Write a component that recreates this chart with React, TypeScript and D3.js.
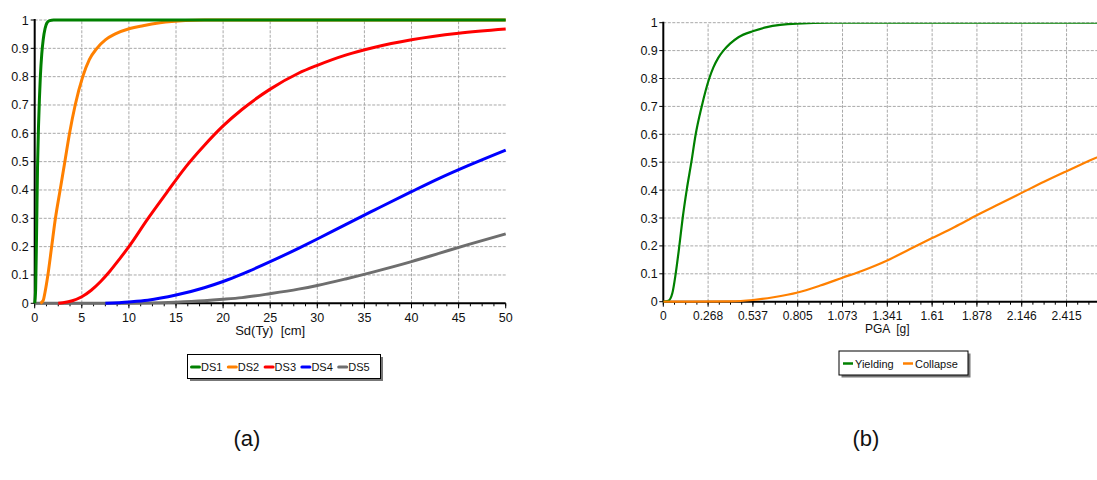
import * as d3 from "d3";

const W = 1097;
const H = 480;

// left panel: damage state fragility curves vs Sd(Ty)
const sdTicks = [0, 5, 10, 15, 20, 25, 30, 35, 40, 45, 50];
const probTicks = [0, 0.1, 0.2, 0.3, 0.4, 0.5, 0.6, 0.7, 0.8, 0.9, 1];
const probLabels = ["0", "0.1", "0.2", "0.3", "0.4", "0.5", "0.6", "0.7", "0.8", "0.9", "1"];

const ds1: [number, number][] = [
  [0, 0], [0.1, 0.05], [0.2, 0.25], [0.3, 0.48], [0.4, 0.62], [0.5, 0.72], [0.6, 0.8],
  [0.75, 0.88], [0.9, 0.93], [1.1, 0.97], [1.3, 0.99], [1.6, 0.998], [2, 1], [50, 1],
];
const ds2: [number, number][] = [
  [0.6, 0], [0.9, 0.01], [1.1, 0.04], [1.4, 0.1], [1.8, 0.2], [2.2, 0.3], [2.7, 0.4],
  [3.2, 0.5], [3.7, 0.6], [4.3, 0.7], [5.1, 0.8], [5.8, 0.86], [6.6, 0.9], [7.5, 0.93],
  [8.5, 0.95], [10.1, 0.97], [11.5, 0.98], [13.3, 0.99], [16, 0.998], [18, 1], [50, 1],
];
const ds3: [number, number][] = [
  [2.5, 0], [3, 0.002], [4, 0.009], [5, 0.023], [6, 0.046], [7, 0.077], [8, 0.114], [9, 0.156],
  [10, 0.2], [12, 0.298], [14, 0.39], [16, 0.48], [18, 0.557], [20, 0.626], [22, 0.684],
  [25, 0.756], [28, 0.812], [30, 0.84], [33, 0.876], [36, 0.903], [40, 0.93], [45, 0.953], [50, 0.968],
];
const ds4: [number, number][] = [
  [7.5, 0], [10, 0.005], [12, 0.011], [15, 0.029], [18, 0.055], [20, 0.077], [22, 0.103],
  [25, 0.147], [28, 0.194], [30, 0.227], [33, 0.278], [36, 0.328], [40, 0.394], [43, 0.442],
  [46, 0.486], [50, 0.541],
];
const ds5: [number, number][] = [
  [0, 0], [10, 0.0004], [12, 0.001], [15, 0.004], [18, 0.009], [20, 0.014], [22, 0.02],
  [25, 0.034], [28, 0.05], [30, 0.063], [33, 0.086], [36, 0.111], [40, 0.147], [43, 0.177],
  [46, 0.207], [50, 0.245],
];

const dsSeries = [
  { name: "DS1", color: "#008000", data: ds1 },
  { name: "DS2", color: "#ff8000", data: ds2 },
  { name: "DS3", color: "#ff0000", data: ds3 },
  { name: "DS4", color: "#0000ff", data: ds4 },
  { name: "DS5", color: "#6e6e6e", data: ds5 },
];

// right panel: yielding / collapse vs PGA
const pgaTicks = [0, 0.2683, 0.5366, 0.805, 1.0733, 1.3416, 1.61, 1.8783, 2.1466, 2.415];
const pgaLabels = ["0", "0.268", "0.537", "0.805", "1.073", "1.341", "1.61", "1.878", "2.146", "2.415"];

const yielding: [number, number][] = [
  [0, 0], [0.03, 0.003], [0.054, 0.03], [0.074, 0.1], [0.096, 0.2], [0.116, 0.3], [0.14, 0.4],
  [0.168, 0.5], [0.194, 0.6], [0.23, 0.7], [0.275, 0.8], [0.3, 0.84], [0.33, 0.875], [0.36, 0.9],
  [0.4, 0.925], [0.45, 0.948], [0.54, 0.97], [0.62, 0.984], [0.7, 0.992], [0.8, 0.997],
  [1.0, 1], [2.683, 1],
];
const collapse: [number, number][] = [
  [0, 0], [0.4, 0.001], [0.537, 0.006], [0.66, 0.016], [0.805, 0.033], [0.94, 0.058],
  [1.073, 0.086], [1.2, 0.113], [1.341, 0.148], [1.475, 0.188], [1.61, 0.228], [1.745, 0.268],
  [1.878, 0.31], [2.012, 0.35], [2.146, 0.39], [2.28, 0.43], [2.415, 0.468], [2.55, 0.505], [2.683, 0.54],
];

const limitSeries = [
  { name: "Yielding", color: "#008000", data: yielding },
  { name: "Collapse", color: "#ff8000", data: collapse },
];

const font = "'Liberation Sans', Arial, sans-serif";
const gridColor = "#a8a8a8";

const App = () => {
  const lx = d3.scaleLinear().domain([0, 50]).range([34.7, 505.7]);
  const ly = d3.scaleLinear().domain([0, 1]).range([303.3, 20]);
  const rx = d3.scaleLinear().domain([0, 2.683]).range([663.3, 1111.3]);
  const ry = d3.scaleLinear().domain([0, 1]).range([301.7, 22.7]);

  const lLine = d3.line<[number, number]>().x((d) => lx(d[0])).y((d) => ly(d[1])).curve(d3.curveMonotoneX);
  const rLine = d3.line<[number, number]>().x((d) => rx(d[0])).y((d) => ry(d[1])).curve(d3.curveMonotoneX);

  const lMinor = d3.range(0, 50.01, 1.25);
  const rMinor = d3.range(0, 2.683, 0.2683 / 4);

  return (
    <div style={{ position: "fixed", left: 0, top: 0, width: W, height: H, overflow: "hidden", background: "#fff" }}>
      <svg width={W} height={H} style={{ display: "block" }} fontFamily={font}>
        <defs>
          <clipPath id="rclip">
            <rect x={rx(0)} y={ry(1)} width={W - rx(0)} height={ry(0) - ry(1) + 4} />
          </clipPath>
        </defs>

        {/* ----- left panel ----- */}
        <g>
          {probTicks.slice(1).map((t) => (
            <line key={t} x1={lx(0)} x2={lx(50)} y1={ly(t)} y2={ly(t)} stroke={gridColor} strokeDasharray="3,1.5" />
          ))}
          {sdTicks.slice(1, -1).map((t) => (
            <line key={t} x1={lx(t)} x2={lx(t)} y1={ly(0)} y2={ly(1)} stroke={gridColor} strokeDasharray="3,1.5" />
          ))}
          <line x1={lx(0)} x2={lx(0)} y1={ly(1) - 1} y2={ly(0)} stroke="#000" strokeWidth={2} />
          <line x1={lx(0)} x2={lx(50)} y1={ly(0)} y2={ly(0)} stroke="#000" strokeWidth={2} />
          {probTicks.map((t, i) => (
            <g key={t}>
              <line x1={lx(0) - 4} x2={lx(0)} y1={ly(t)} y2={ly(t)} stroke="#000" />
              <text x={lx(0) - 6} y={ly(t) + 4.5} fontSize={12.5} textAnchor="end" fill="#111">{probLabels[i]}</text>
            </g>
          ))}
          {lMinor.map((t) => (
            <line key={t} x1={lx(t)} x2={lx(t)} y1={ly(0)} y2={ly(0) + 3} stroke="#000" />
          ))}
          {sdTicks.map((t) => (
            <g key={t}>
              <line x1={lx(t)} x2={lx(t)} y1={ly(0)} y2={ly(0) + 5} stroke="#000" />
              <text x={lx(t)} y={ly(0) + 18.5} fontSize={12.5} textAnchor="middle" fill="#111">{t}</text>
            </g>
          ))}
          <text x={(lx(0) + lx(50)) / 2} y={335} fontSize={13} textAnchor="middle" fill="#111" style={{ whiteSpace: "pre" }}>
            {"Sd(Ty)  [cm]"}
          </text>
          {[...dsSeries].reverse().map((s) => (
            <path key={s.name} d={lLine(s.data) ?? ""} fill="none" stroke={s.color} strokeWidth={3} strokeLinejoin="round" />
          ))}
          {/* legend */}
          <rect x={190} y={357} width={193} height={24} fill="#777" />
          <rect x={187.5} y={354.5} width={193} height={24} fill="#fff" stroke="#000" />
          {dsSeries.map((s, i) => (
            <g key={s.name} transform={`translate(${191.5 + i * 36.8},0)`}>
              <line x1={0} x2={8} y1={367} y2={367} stroke={s.color} strokeWidth={3} strokeLinecap="round" />
              <text x={9.5} y={371} fontSize={11} fill="#111">{s.name}</text>
            </g>
          ))}
          <text x={247} y={446} fontSize={22} textAnchor="middle" fill="#111">(a)</text>
        </g>

        {/* ----- right panel ----- */}
        <g>
          {probTicks.slice(1).map((t) => (
            <line key={t} x1={rx(0)} x2={W} y1={ry(t)} y2={ry(t)} stroke={gridColor} strokeDasharray="3,1.5" />
          ))}
          {pgaTicks.slice(1).map((t) => (
            <line key={t} x1={rx(t)} x2={rx(t)} y1={ry(0)} y2={ry(1)} stroke={gridColor} strokeDasharray="3,1.5" />
          ))}
          <line x1={rx(0)} x2={rx(0)} y1={ry(1) - 1} y2={ry(0)} stroke="#000" strokeWidth={2} />
          <line x1={rx(0)} x2={W} y1={ry(0)} y2={ry(0)} stroke="#000" strokeWidth={2} />
          {probTicks.map((t, i) => (
            <g key={t}>
              <line x1={rx(0) - 4} x2={rx(0)} y1={ry(t)} y2={ry(t)} stroke="#000" />
              <text x={rx(0) - 5.5} y={ry(t) + 4.5} fontSize={12.5} textAnchor="end" fill="#111">{probLabels[i]}</text>
            </g>
          ))}
          {rMinor.map((t) => (
            <line key={t} x1={rx(t)} x2={rx(t)} y1={ry(0)} y2={ry(0) + 3} stroke="#000" />
          ))}
          {pgaTicks.map((t, i) => (
            <g key={t}>
              <line x1={rx(t)} x2={rx(t)} y1={ry(0)} y2={ry(0) + 5} stroke="#000" />
              <text x={rx(t)} y={ry(0) + 18} fontSize={12} textAnchor="middle" fill="#111">{pgaLabels[i]}</text>
            </g>
          ))}
          <text x={(rx(0) + rx(2.683)) / 2} y={333} fontSize={12} textAnchor="middle" fill="#111" style={{ whiteSpace: "pre" }}>
            {"PGA  [g]"}
          </text>
          <g clipPath="url(#rclip)">
            {limitSeries.map((s) => (
              <path key={s.name} d={rLine(s.data) ?? ""} fill="none" stroke={s.color} strokeWidth={2.2} strokeLinejoin="round" />
            ))}
          </g>
          {/* legend */}
          <rect x={841.5} y={353.5} width={129} height={24} fill="#777" />
          <rect x={839} y={351} width={129} height={24} fill="#fff" stroke="#000" />
          {limitSeries.map((s, i) => (
            <g key={s.name} transform={`translate(${843 + i * 60},0)`}>
              <line x1={0} x2={10} y1={363.5} y2={363.5} stroke={s.color} strokeWidth={2.5} />
              <text x={12} y={367.5} fontSize={11} fill="#111">{s.name}</text>
            </g>
          ))}
          <text x={866} y={446} fontSize={22} textAnchor="middle" fill="#111">(b)</text>
        </g>
      </svg>
    </div>
  );
};

export default App;
